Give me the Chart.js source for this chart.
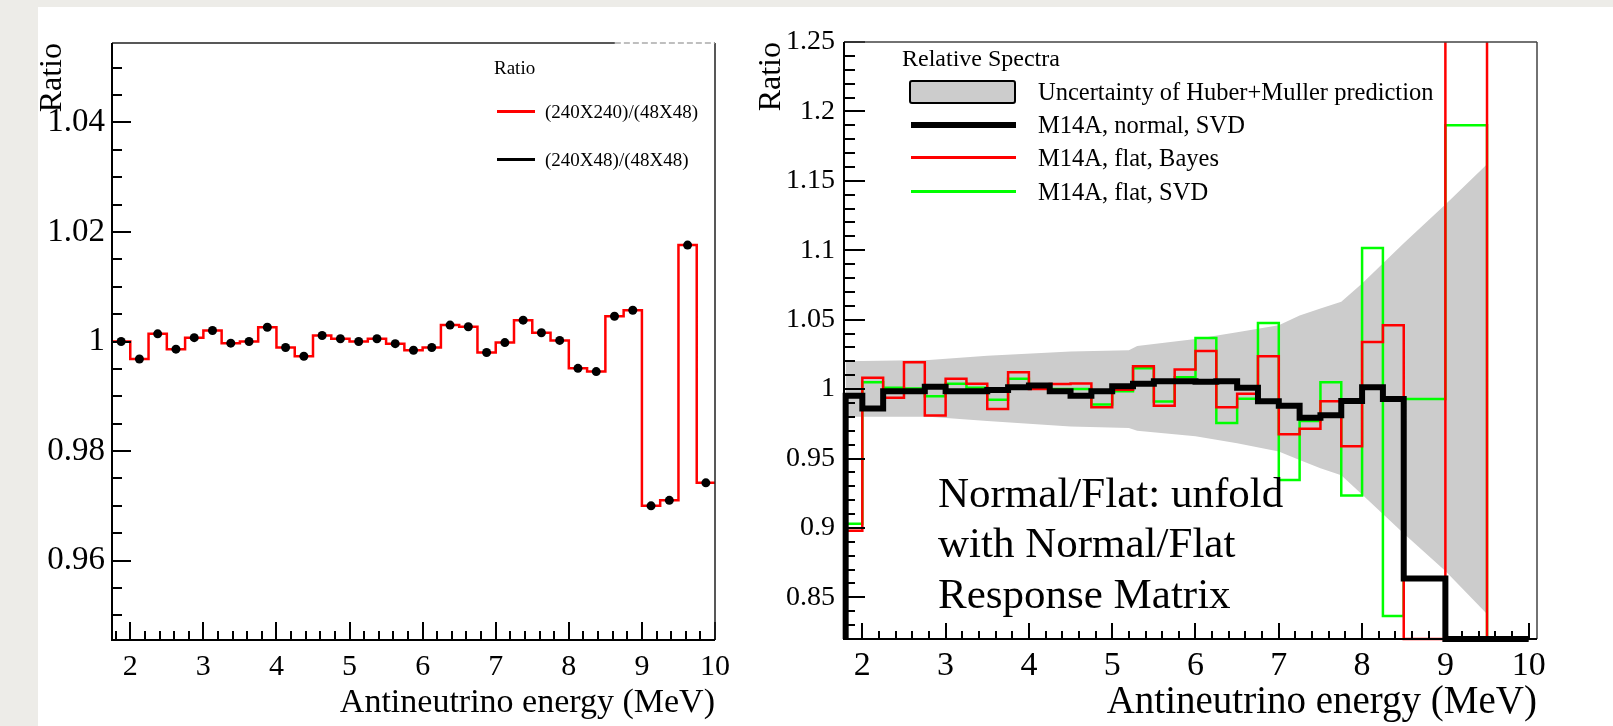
<!DOCTYPE html>
<html>
<head>
<meta charset="utf-8">
<script src="https://cdn.jsdelivr.net/npm/chart.js@4.4.1/dist/chart.umd.min.js"></script>
<style>
html,body{margin:0;padding:0;width:1613px;height:726px;overflow:hidden;background:#edece8;}
#paper{position:absolute;left:38px;top:7px;width:1575px;height:719px;background:#ffffff;}
canvas{position:absolute;left:0;top:0;}
.t{position:absolute;font-family:"Liberation Serif","Times New Roman",serif;color:#000;white-space:nowrap;line-height:1;}
.ln{position:absolute;}
</style>
</head>
<body>
<div id="paper"></div>
<canvas id="c1" width="1613" height="726"></canvas>
<canvas id="c2" width="1613" height="726"></canvas>

<!-- left legend -->
<div class="t" style="left:494px;top:58px;font-size:19px;">Ratio</div>
<div class="ln" style="left:497px;top:110px;width:38px;height:3px;background:#ff0000;"></div>
<div class="t" style="left:545px;top:102px;font-size:19px;">(240X240)/(48X48)</div>
<div class="ln" style="left:497px;top:158px;width:38px;height:3px;background:#000000;"></div>
<div class="t" style="left:545px;top:150px;font-size:19px;">(240X48)/(48X48)</div>

<!-- right legend -->
<div class="t" style="left:902px;top:46px;font-size:24px;">Relative Spectra</div>
<div class="ln" style="left:909px;top:80px;width:107px;height:24px;background:#cccccc;border:2.5px solid #000;border-radius:3px;box-sizing:border-box;"></div>
<div class="t" style="left:1038px;top:80px;font-size:24.5px;">Uncertainty of Huber+Muller prediction</div>
<div class="ln" style="left:911px;top:122px;width:105px;height:6px;background:#000000;"></div>
<div class="t" style="left:1038px;top:113px;font-size:24.5px;">M14A, normal, SVD</div>
<div class="ln" style="left:911px;top:156px;width:105px;height:3px;background:#ff0000;"></div>
<div class="t" style="left:1038px;top:146px;font-size:24.5px;">M14A, flat, Bayes</div>
<div class="ln" style="left:911px;top:190px;width:105px;height:3px;background:#00ff00;"></div>
<div class="t" style="left:1038px;top:180px;font-size:24.5px;">M14A, flat, SVD</div>

<!-- annotation -->
<div class="t" style="left:938px;top:471px;font-size:43px;">Normal/Flat: unfold</div>
<div class="t" style="left:938px;top:521px;font-size:43px;">with Normal/Flat</div>
<div class="t" style="left:938px;top:572px;font-size:43px;">Response Matrix</div>

<script>
const FONT = '"Liberation Serif", "Times New Roman", serif';

// ---------------- Left panel data ----------------
const leftBinEdges = [1.75, 2.0, 2.25, 2.5, 2.75, 3.0, 3.25, 3.5, 3.75, 4.0, 4.25, 4.5, 4.75, 5.0, 5.25, 5.5, 5.75,
  6.0, 6.25, 6.5, 6.75, 7.0, 7.25, 7.5, 7.75, 8.0, 8.25, 8.5, 8.75, 9.0, 9.25, 9.5, 9.75, 10.0];
const leftBinCenters = [1.875, 2.125, 2.375, 2.625, 2.875, 3.125, 3.375, 3.625, 3.875, 4.125, 4.375, 4.625, 4.875,
  5.125, 5.375, 5.625, 5.875, 6.125, 6.375, 6.625, 6.875, 7.125, 7.375, 7.625, 7.875, 8.125, 8.375, 8.625, 8.875,
  9.125, 9.375, 9.625, 9.875];
// (240X240)/(48X48)  -- red histogram
const ratio240x240 = [1.0000, 0.9968, 1.0014, 0.9986, 1.0007, 1.0020, 0.9997, 1.0000, 1.0026, 0.9989, 0.9973,
  1.0011, 1.0005, 1.0000, 1.0005, 0.9996, 0.9984, 0.9989, 1.0030, 1.0027, 0.9980, 0.9998, 1.0039, 1.0016, 1.0002,
  0.9951, 0.9945, 1.0046, 1.0057, 0.9700, 0.9710, 1.0176, 0.9742];
// (240X48)/(48X48)  -- black markers
const ratio240x48 = [1.0000, 0.9968, 1.0014, 0.9986, 1.0007, 1.0020, 0.9997, 1.0000, 1.0026, 0.9989, 0.9973,
  1.0011, 1.0005, 1.0000, 1.0005, 0.9996, 0.9984, 0.9989, 1.0030, 1.0027, 0.9980, 0.9998, 1.0039, 1.0016, 1.0002,
  0.9951, 0.9945, 1.0046, 1.0057, 0.9700, 0.9710, 1.0176, 0.9742];
const leftXTicks = [2, 3, 4, 5, 6, 7, 8, 9, 10];
const leftXTickLabels = ['2', '3', '4', '5', '6', '7', '8', '9', '10'];
const leftYTicks = [0.96, 0.98, 1.0, 1.02, 1.04];
const leftYTickLabels = ['0.96', '0.98', '1', '1.02', '1.04'];

// ---------------- Right panel data ----------------
const rightBinEdges = [1.8, 2.0, 2.25, 2.5, 2.75, 3.0, 3.25, 3.5, 3.75, 4.0, 4.25, 4.5, 4.75, 5.0, 5.25, 5.5, 5.75,
  6.0, 6.25, 6.5, 6.75, 7.0, 7.25, 7.5, 7.75, 8.0, 8.25, 8.5, 9.0, 9.5, 10.0];
const normalSVD = [0.9952, 0.9860, 0.9985, 0.9985, 1.0016, 0.9985, 0.9985, 0.9993, 1.0014, 1.0026, 0.9985, 0.9952,
  0.9985, 1.0020, 1.0038, 1.0057, 1.0057, 1.0052, 1.0057, 1.0009, 0.9913, 0.9880, 0.9794, 0.9812, 0.9915, 1.0014,
  0.9928, 0.8636, 0.8200, 0.8200];
const flatBayes = [0.8980, 1.0081, 0.9937, 1.0193, 0.9810, 1.0074, 1.0038, 0.9856, 1.0122, 1.0000, 1.0037, 1.0040,
  0.9870, 0.9995, 1.0165, 0.9880, 1.0141, 1.0275, 0.9870, 0.9966, 1.0236, 0.9674, 0.9714, 0.9913, 0.9588, 1.0340,
  1.0460, 0.8200, 1.3000, 0.8200];
const flatSVD = [0.9030, 1.0050, 1.0009, 1.0005, 0.9949, 1.0038, 1.0009, 0.9923, 1.0074, 1.0010, 1.0000, 1.0000,
  0.9889, 0.9985, 1.0150, 0.9910, 1.0086, 1.0368, 0.9755, 0.9930, 1.0476, 0.9346, 0.9770, 1.0050, 0.9233, 1.1016,
  0.8366, 0.9928, 1.1900, 0.8200];
const bandX = [1.8, 2.8, 3.5, 4.5, 5.2, 5.3, 6.0, 6.5, 7.0, 7.25, 7.5, 7.75, 8.0, 8.5, 9.0, 9.5];
const bandUpper = [1.020, 1.021, 1.024, 1.027, 1.028, 1.031, 1.036, 1.041, 1.046, 1.053, 1.058, 1.063, 1.076, 1.105, 1.133, 1.162];
const bandLower = [0.980, 0.980, 0.977, 0.973, 0.972, 0.970, 0.966, 0.961, 0.955, 0.949, 0.943, 0.938, 0.924, 0.896, 0.869, 0.838];
const rightXTicks = [2, 3, 4, 5, 6, 7, 8, 9, 10];
const rightXTickLabels = ['2', '3', '4', '5', '6', '7', '8', '9', '10'];
const rightYTicks = [0.85, 0.9, 0.95, 1.0, 1.05, 1.1, 1.15, 1.2, 1.25];
const rightYTickLabels = ['0.85', '0.9', '0.95', '1', '1.05', '1.1', '1.15', '1.2', '1.25'];

// ---------------- helpers ----------------
function histPoints(edges, values, floor) {
  const pts = [];
  if (floor !== undefined) pts.push({x: edges[0], y: floor});
  values.forEach((v, i) => pts.push({x: edges[i], y: v}));
  pts.push({x: edges[edges.length - 1], y: values[values.length - 1]});
  return pts;
}
function xyPoints(xs, ys) { return xs.map((x, i) => ({x: x, y: ys[i]})); }

function framePlugin(cfg) {
  return {
    id: 'frame' + cfg.id,
    afterDatasetsDraw(chart) {
      const {ctx, chartArea: a, scales} = chart;
      const xs = scales.x, ys = scales.y;
      ctx.save();
      ctx.lineCap = 'butt';
      const isMajor = (v, majors) => majors.some(m => Math.abs(m - v) < 1e-6);
      ctx.strokeStyle = '#000';
      ctx.lineWidth = 2;
      const yTick = (v, len) => {
        const p = Math.round(ys.getPixelForValue(v));
        ctx.beginPath(); ctx.moveTo(a.left, p); ctx.lineTo(a.left + len, p); ctx.stroke();
      };
      const xTick = (v, len) => {
        const p = Math.round(xs.getPixelForValue(v));
        ctx.beginPath(); ctx.moveTo(p, a.bottom); ctx.lineTo(p, a.bottom - len); ctx.stroke();
      };
      for (let k = Math.ceil(ys.min / cfg.yMinorStep - 1e-9); k * cfg.yMinorStep <= ys.max + 1e-9; k++) {
        const v = k * cfg.yMinorStep;
        yTick(v, isMajor(v, cfg.yMajors) ? cfg.yMajorLen : cfg.yMinorLen);
      }
      for (let k = Math.ceil(xs.min / cfg.xMinorStep - 1e-9); k * cfg.xMinorStep <= xs.max + 1e-9; k++) {
        const v = k * cfg.xMinorStep;
        xTick(v, isMajor(v, cfg.xMajors) ? cfg.xMajorLen : cfg.xMinorLen);
      }
      // top & right frame
      ctx.strokeStyle = cfg.frameColor;
      ctx.lineWidth = 1.5;
      ctx.beginPath();
      ctx.moveTo(a.left, a.top); ctx.lineTo(a.right, a.top);
      ctx.moveTo(a.right, a.top); ctx.lineTo(a.right, a.bottom);
      ctx.stroke();
      if (cfg.lightTopFrom !== undefined) {
        const px = xs.getPixelForValue(cfg.lightTopFrom);
        ctx.strokeStyle = '#ffffff'; ctx.lineWidth = 3;
        ctx.beginPath(); ctx.moveTo(px, a.top); ctx.lineTo(a.right - 1, a.top); ctx.stroke();
        ctx.strokeStyle = '#aaaaaa'; ctx.lineWidth = 1.5; ctx.setLineDash([6, 3]);
        ctx.beginPath(); ctx.moveTo(px, a.top); ctx.lineTo(a.right, a.top); ctx.stroke();
        ctx.setLineDash([]);
      }
      // axes
      ctx.strokeStyle = '#000';
      ctx.lineWidth = 2;
      ctx.beginPath();
      ctx.moveTo(a.left, a.top); ctx.lineTo(a.left, a.bottom + 1);
      ctx.moveTo(a.left - 1, a.bottom); ctx.lineTo(a.right, a.bottom);
      ctx.stroke();
      ctx.restore();
    }
  };
}

function scaleCfg(o) {
  return {
    type: 'linear',
    min: o.min, max: o.max,
    afterBuildTicks: s => { s.ticks = o.ticks.map(v => ({value: v})); },
    afterFit: s => { if (o.width !== undefined) s.width = o.width; if (o.height !== undefined) s.height = o.height; },
    ticks: {
      callback: (v, i) => o.labels[i],
      font: {family: FONT, size: o.tickSize},
      color: '#000',
      padding: o.tickPad,
      maxRotation: 0, minRotation: 0, autoSkip: false
    },
    grid: {display: false, drawTicks: false, drawOnChartArea: false},
    border: {display: false},
    title: {
      display: true, text: o.title, align: 'end', color: '#000',
      font: {family: FONT, size: o.titleSize},
      padding: o.titlePad
    }
  };
}

// ---------------- Left chart ----------------
new Chart(document.getElementById('c1'), {
  type: 'line',
  data: {
    datasets: [
      {
        label: '(240X48)/(48X48)',
        data: xyPoints(leftBinCenters, ratio240x48),
        showLine: false,
        pointRadius: 4.5, pointHoverRadius: 4.5,
        pointBackgroundColor: '#000', pointBorderColor: '#000', pointBorderWidth: 0,
        order: 0
      },
      {
        label: '(240X240)/(48X48)',
        data: histPoints(leftBinEdges, ratio240x240),
        stepped: 'before',
        borderColor: '#ff0000', borderWidth: 2.5,
        pointRadius: 0, fill: false,
        order: 1
      }
    ]
  },
  options: {
    responsive: false, animation: false, devicePixelRatio: 1,
    layout: {padding: {left: 22, right: 898, top: 43, bottom: 0}, autoPadding: false},
    plugins: {legend: {display: false}, tooltip: {enabled: false}},
    scales: {
      x: scaleCfg({min: 1.75, max: 10, ticks: leftXTicks, labels: leftXTickLabels, tickSize: 30, tickPad: 9,
        title: 'Antineutrino energy (MeV)', titleSize: 34, titlePad: {top: 0, bottom: 3}, height: 86}),
      y: scaleCfg({min: 0.9455, max: 1.0545, ticks: leftYTicks, labels: leftYTickLabels, tickSize: 33, tickPad: 7,
        title: 'Ratio', titleSize: 32, titlePad: {top: 11, bottom: 0}, width: 90})
    }
  },
  plugins: [framePlugin({id: 'L', yMinorStep: 0.005, yMajors: leftYTicks, yMajorLen: 19, yMinorLen: 10,
    xMinorStep: 0.2, xMajors: leftXTicks, xMajorLen: 18, xMinorLen: 9, frameColor: '#222', lightTopFrom: 8.63})]
});

// ---------------- Right chart ----------------
const clipCfg = {left: 4, top: 0, right: 0, bottom: 4};
new Chart(document.getElementById('c2'), {
  type: 'line',
  data: {
    datasets: [
      {
        label: 'Uncertainty of Huber+Muller prediction',
        data: xyPoints(bandX, bandUpper),
        borderWidth: 0, pointRadius: 0, borderColor: 'rgba(0,0,0,0)',
        backgroundColor: '#cccccc', fill: '+1', order: 4
      },
      {
        label: 'band lower',
        data: xyPoints(bandX, bandLower),
        borderWidth: 0, pointRadius: 0, borderColor: 'rgba(0,0,0,0)',
        fill: false, order: 5
      },
      {
        label: 'M14A, normal, SVD',
        data: histPoints(rightBinEdges, normalSVD, 0.82),
        stepped: 'before', borderColor: '#000000', borderWidth: 6,
        pointRadius: 0, fill: false, clip: clipCfg, order: 0
      },
      {
        label: 'M14A, flat, Bayes',
        data: histPoints(rightBinEdges, flatBayes, 0.82),
        stepped: 'before', borderColor: '#ff0000', borderWidth: 2.5,
        pointRadius: 0, fill: false, clip: clipCfg, order: 1
      },
      {
        label: 'M14A, flat, SVD',
        data: histPoints(rightBinEdges, flatSVD, 0.82),
        stepped: 'before', borderColor: '#00ff00', borderWidth: 2.5,
        pointRadius: 0, fill: false, clip: clipCfg, order: 2
      }
    ]
  },
  options: {
    responsive: false, animation: false, devicePixelRatio: 1,
    layout: {padding: {left: 744, right: 76, top: 42, bottom: 0}, autoPadding: false},
    plugins: {legend: {display: false}, tooltip: {enabled: false}},
    scales: {
      x: scaleCfg({min: 1.78, max: 10.1, ticks: rightXTicks, labels: rightXTickLabels, tickSize: 34, tickPad: 7,
        title: 'Antineutrino energy (MeV)', titleSize: 39, titlePad: {top: 0, bottom: 0}, height: 87}),
      y: scaleCfg({min: 0.82, max: 1.25, ticks: rightYTicks, labels: rightYTickLabels, tickSize: 28, tickPad: 9,
        title: 'Ratio', titleSize: 32, titlePad: {top: 8, bottom: 0}, width: 100})
    }
  },
  plugins: [framePlugin({id: 'R', yMinorStep: 0.01, yMajors: rightYTicks, yMajorLen: 21, yMinorLen: 11,
    xMinorStep: 0.2, xMajors: rightXTicks, xMajorLen: 16, xMinorLen: 8, frameColor: '#444'})]
});
</script>
</body>
</html>
